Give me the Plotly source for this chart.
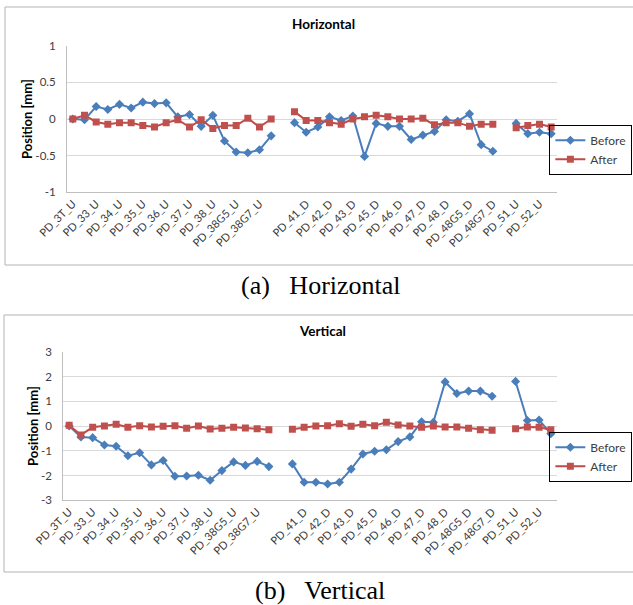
import plotly.graph_objects as go

# ---------------- data ----------------
tick_labels = ["PD_3T_U", "PD_33_U", "PD_34_U", "PD_35_U", "PD_36_U", "PD_37_U",
               "PD_38_U", "PD_38G5_U", "PD_38G7_U", "", "PD_41_D", "PD_42_D",
               "PD_43_D", "PD_45_D", "PD_46_D", "PD_47_D", "PD_48_D", "PD_48G5_D",
               "PD_48G7_D", "PD_51_U", "PD_52_U"]
positions = list(range(42))

h_before = [0.00, -0.01, 0.17, 0.13, 0.20, 0.15, 0.23, 0.21, 0.22, 0.03, 0.06, -0.10,
            0.05, -0.30, -0.45, -0.46, -0.42, -0.23, None,
            -0.05, -0.18, -0.11, 0.03, -0.02, 0.04, -0.51, -0.06, -0.10, -0.10, -0.28,
            -0.22, -0.17, -0.01, -0.03, 0.07, -0.35, -0.44, None,
            -0.06, -0.20, -0.18, -0.20]
h_after = [0.00, 0.05, -0.04, -0.07, -0.05, -0.05, -0.09, -0.11, -0.05, -0.01, -0.11, -0.01,
           -0.13, -0.09, -0.09, 0.01, -0.11, 0.00, None,
           0.10, -0.02, -0.02, -0.05, -0.07, 0.00, 0.03, 0.05, 0.03, 0.00, 0.00,
           0.01, -0.08, -0.05, -0.05, -0.10, -0.07, -0.07, None,
           -0.12, -0.09, -0.07, -0.11]
v_before = [0.00, -0.44, -0.47, -0.77, -0.82, -1.20, -1.08, -1.57, -1.39, -2.03, -2.02, -1.99,
            -2.19, -1.80, -1.45, -1.59, -1.43, -1.64, None,
            -1.53, -2.27, -2.27, -2.34, -2.27, -1.74, -1.13, -1.02, -0.96, -0.63, -0.44,
            0.17, 0.15, 1.78, 1.31, 1.41, 1.41, 1.20, None,
            1.80, 0.22, 0.24, -0.31]
v_after = [0.03, -0.36, -0.05, 0.00, 0.07, -0.05, 0.01, -0.04, -0.01, 0.01, -0.09, 0.00,
           -0.12, -0.09, -0.05, -0.08, -0.11, -0.15, None,
           -0.13, -0.05, 0.00, 0.01, 0.09, -0.01, 0.07, 0.01, 0.15, 0.04, 0.00,
           -0.05, 0.00, -0.04, -0.04, -0.09, -0.15, -0.17, None,
           -0.11, -0.04, -0.05, -0.15]

h_yticks = [-1, -0.5, 0, 0.5, 1]
h_ytext = ["-1", "-0.5", "0", "0.5", "1"]
v_yticks = [-3, -2, -1, 0, 1, 2, 3]
v_ytext = ["-3", "-2", "-1", "0", "1", "2", "3"]

# ---------------- layout helpers ----------------
W, H = 633, 605
def fx(p):
    return p / W
def fy(p):
    return 1 - p / H

FONT = "Lato, 'Open Sans', sans-serif"
SERIF = "'Liberation Serif', 'Times New Roman', serif"
BLUE = "#4A7EBB"
RED = "#BE4B48"
TXT = "#404040"

fig = go.Figure()

def add_pair(xa, ya, legend, before, after):
    fig.add_trace(go.Scatter(
        x=positions, y=before, name="Before", mode="lines+markers",
        xaxis=xa, yaxis=ya, legend=legend,
        line=dict(color=BLUE, width=2),
        marker=dict(symbol="diamond", size=7, color=BLUE),
        connectgaps=False))
    fig.add_trace(go.Scatter(
        x=positions, y=after, name="After", mode="lines+markers",
        xaxis=xa, yaxis=ya, legend=legend,
        line=dict(color=RED, width=2),
        marker=dict(symbol="square", size=7, color="#C0504D"),
        connectgaps=False))

add_pair("x", "y", "legend", h_before, h_after)
add_pair("x2", "y2", "legend2", v_before, v_after)

xcommon = dict(range=[-0.5, 41.5], tickmode="array", tickvals=positions[::2],
               ticktext=tick_labels, tickangle=-45, showgrid=False, zeroline=False,
               showline=True, linecolor="#bfbfbf", linewidth=1, ticks="",
               tickfont=dict(family=FONT, size=11, color="#383838"), fixedrange=True,
               automargin=False)
ycommon = dict(showgrid=True, gridcolor="#d9d9d9", gridwidth=1, zeroline=False,
               showline=True, linecolor="#bfbfbf", linewidth=1, tickmode="array",
               ticks="", tickfont=dict(family=FONT, size=11.5, color=TXT),
               ticklabelstandoff=8, fixedrange=True, automargin=False)

legcommon = dict(x=0.999, xanchor="right", yanchor="middle",
                 bordercolor="black", borderwidth=1, bgcolor="rgba(255,255,255,0)",
                 font=dict(family=FONT, size=12, color=TXT), itemwidth=30)

fig.update_layout(
    template="none",
    width=W, height=H, margin=dict(l=0, r=0, t=0, b=0, autoexpand=False),
    paper_bgcolor="white", plot_bgcolor="white",
    font=dict(family=FONT, color=TXT),
    xaxis=dict(domain=[fx(67), fx(557)], anchor="y", **xcommon),
    yaxis=dict(domain=[fy(192.3), fy(45.7)], anchor="x", range=[-1, 1],
               tickvals=h_yticks, ticktext=h_ytext, **ycommon),
    xaxis2=dict(domain=[fx(63.3), fx(556.7)], anchor="y2", **xcommon),
    yaxis2=dict(domain=[fy(500.3), fy(351.7)], anchor="x2", range=[-3, 3],
                tickvals=v_yticks, ticktext=v_ytext, **ycommon),
    legend=dict(y=fy(149.7), **legcommon),
    legend2=dict(y=fy(456.7), **legcommon),
    showlegend=True,
)

# chart frames
for top, bot, left in [(7, 265, 5), (315, 572, 4)]:
    fig.add_shape(type="rect", xref="paper", yref="paper",
                  x0=fx(left), x1=1.05, y0=fy(bot), y1=fy(top),
                  line=dict(color="#b3b3b3", width=1), layer="below")

def note(text, x, y, size, family=FONT, angle=0, color="black"):
    return dict(text=text, x=fx(x), y=fy(y), xref="paper", yref="paper",
                xanchor="center", yanchor="middle", textangle=angle,
                showarrow=False, font=dict(family=family, size=size, color=color))

ann = [
    note("<b>Horizontal</b>", 323, 24, 13.5),
    note("<b>Vertical</b>", 322, 331, 13.5),
    note("<b>Position [mm]</b>", 27, 119, 13, angle=-90),
    note("<b>Position [mm]</b>", 33, 426, 13, angle=-90),
    note("(a)\u00a0\u00a0 Horizontal", 321, 285, 26, family=SERIF),
    note("(b)\u00a0\u00a0 Vertical", 320, 590, 26, family=SERIF),
]
fig.update_layout(annotations=ann)

fig.write_html("out.html", config={"displayModeBar": False},
               post_script="document.body.style.margin='0';document.body.style.overflow='hidden';")
